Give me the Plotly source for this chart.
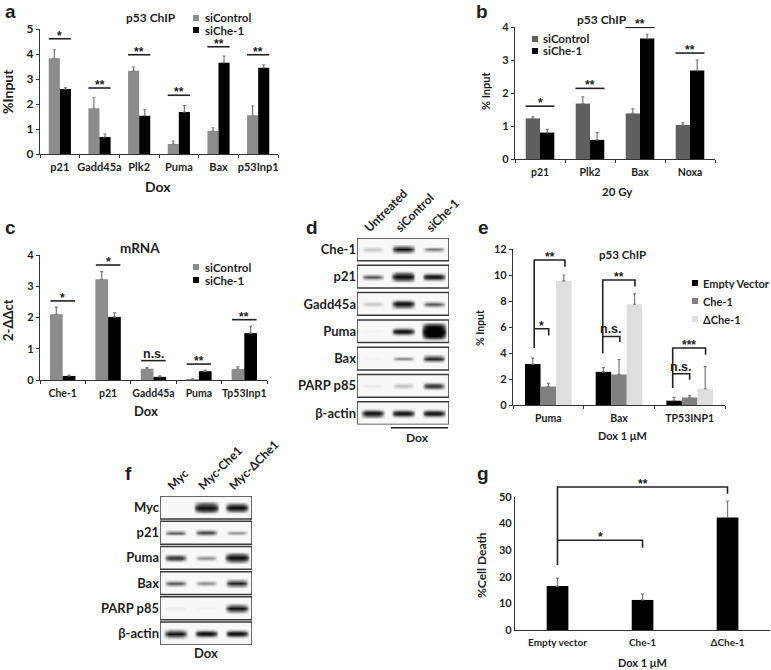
import plotly.graph_objects as go

# ---------- data ----------
A_CATS = ["p21", "Gadd45a", "Plk2", "Puma", "Bax", "p53Inp1"]
A_CTRL = [3.83, 1.83, 3.33, 0.40, 0.92, 1.55]
A_CTRL_ERR = [0.34, 0.42, 0.15, 0.12, 0.13, 0.37]
A_CHE = [2.60, 0.68, 1.53, 1.68, 3.65, 3.45]
A_CHE_ERR = [0.06, 0.12, 0.24, 0.26, 0.27, 0.12]
A_SIG_Y = [4.61, 2.64, 3.97, 2.35, 4.29, 3.97]
A_SIG_TXT = ["*", "**", "**", "**", "**", "**"]

B_CATS = ["p21", "Plk2", "Bax", "Noxa"]
B_CTRL = [1.23, 1.68, 1.38, 1.03]
B_CTRL_ERR = [0.05, 0.20, 0.14, 0.07]
B_CHE = [0.80, 0.58, 3.65, 2.68]
B_CHE_ERR = [0.10, 0.22, 0.13, 0.32]
B_SIG_Y = [1.60, 2.14, 3.99, 3.21]
B_SIG_TXT = ["*", "**", "**", "**"]

C_CATS = ["Che-1", "p21", "Gadd45a", "Puma", "Tp53Inp1"]
C_CTRL = [2.10, 3.22, 0.36, 0.03, 0.35]
C_CTRL_ERR = [0.23, 0.25, 0.04, 0.01, 0.07]
C_CHE = [0.13, 2.02, 0.10, 0.28, 1.50]
C_CHE_ERR = [0.03, 0.13, 0.03, 0.04, 0.22]
C_SIG_Y = [2.53, 3.68, 0.62, 0.51, 1.93]
C_SIG_TXT = ["*", "*", "n.s.", "**", "**"]

E_CATS = ["Puma", "Bax", "TP53INP1"]
E_EMPTY = [3.15, 2.55, 0.33]
E_EMPTY_ERR = [0.45, 0.33, 0.25]
E_CHE = [1.42, 2.35, 0.58]
E_CHE_ERR = [0.25, 1.15, 0.17]
E_DCHE = [9.55, 7.75, 1.25]
E_DCHE_ERR = [0.45, 0.80, 1.70]
E_BRACKET_X = [[-0.20, -0.20, 0.235, 0.235], [-0.20, 0.005, 0.005], [0.77, 0.77, 1.226, 1.226],
               [0.77, 1.013, 1.013], [1.76, 1.76, 2.225, 2.225], [1.76, 2.0, 2.0]]
E_BRACKET_Y = [[4.38, 11.15, 11.15, 10.64], [5.86, 5.86, 5.35], [3.99, 9.62, 9.62, 9.11],
               [5.27, 5.27, 4.84], [1.30, 4.38, 4.38, 3.86], [2.40, 2.40, 1.94]]
E_BRACKET_TXT = ["**", "*", "**", "n.s.", "***", "n.s."]

G_CATS = ["Empty vector", "Che-1", "ΔChe-1"]
G_VALS = [16.5, 11.3, 42.3]
G_ERR = [3.0, 2.2, 6.2]
G_BRACKET_X = [[0, 0, 2, 2], [0, 1, 1]]
G_BRACKET_Y = [[24.4, 53.75, 53.75, 51.25], [33.75, 33.75, 30.9]]
G_BRACKET_TXT = ["**", "*"]

D_ROWS = ["Che-1", "p21", "Gadd45a", "Puma", "Bax", "PARP p85", "β-actin"]
D_LANES = ["Untreated", "siControl", "siChe-1"]
D_SIGNAL = [[0.25, 1.00, 0.45],
            [0.60, 1.35, 1.05],
            [0.25, 1.15, 0.60],
            [0.03, 1.05, 2.60],
            [0.02, 0.40, 0.90],
            [0.07, 0.28, 0.80],
            [1.10, 1.05, 1.05]]

F_ROWS = ["Myc", "p21", "Puma", "Bax", "PARP p85", "β-actin"]
F_LANES = ["Myc", "Myc-Che1", "Myc-ΔChe1"]
F_SIGNAL = [[0.00, 1.50, 1.30],
            [0.55, 0.70, 0.35],
            [0.80, 0.50, 1.40],
            [0.60, 0.50, 0.90],
            [0.07, 0.03, 1.20],
            [1.15, 1.05, 1.05]]

# ---------- helpers ----------
W, H = 771, 670
FONT = "Lato"
TXT = "#1e1e1e"
fig = go.Figure()
shapes, annos = [], []
layout_axes = {}


def px(x):
    return x / W


def py(y):
    return 1 - y / H


def label(x, y, text, size, angle=0, family=FONT, weight=700, xanchor="center", height=None):
    annos.append(dict(x=px(x), y=py(y), xref="paper", yref="paper", text=text, showarrow=False,
                      xanchor=xanchor, yanchor="middle", textangle=angle, height=height,
                      font=dict(family=family, size=size, color=TXT, weight=weight)))


def chart_axes(n, x0, x1, ytop, ybot, cats, ymax, dtick, ticksz=12, xsz=11, ticks=True):
    k = "" if n == 1 else str(n)
    layout_axes["xaxis" + k] = dict(
        domain=[px(x0), px(x1)], range=[-0.5, len(cats) - 0.5], anchor="y" + k, automargin=False,
        tickvals=list(range(len(cats))), ticktext=cats, ticks="", showgrid=False, zeroline=False,
        showline=True, linecolor="#333", linewidth=1.2, ticklabelstandoff=3,
        minor=dict(tickvals=[i - 0.5 for i in range(len(cats) + 1)],
                   ticks="outside" if ticks else "", ticklen=3, tickcolor="#333", showgrid=False),
        tickfont=dict(family=FONT, size=xsz, color=TXT, weight=700), fixedrange=True)
    layout_axes["yaxis" + k] = dict(
        domain=[py(ybot), py(ytop)], range=[0, ymax], anchor="x" + k, dtick=dtick, tick0=0, automargin=False,
        ticks="outside" if ticks else "", ticklen=3, tickcolor="#333", showgrid=False, zeroline=False,
        showline=True, linecolor="#333", linewidth=1.2,
        tickfont=dict(family=FONT, size=ticksz, color=TXT, weight=700), fixedrange=True)
    return "x" + k, "y" + k


def bars(xa, ya, vals, errs, color, offset, width, errcolor="#7a7a7a"):
    fig.add_trace(go.Bar(
        x=list(range(len(vals))), y=vals, xaxis=xa, yaxis=ya, offset=offset, width=width,
        marker=dict(color=color, line=dict(width=0)), showlegend=False,
        error_y=dict(type="data", symmetric=False, array=errs, arrayminus=[0] * len(errs),
                     color=errcolor, thickness=1.2, width=1.5)))


def line(xa, ya, xs, ys, width=1.6):
    fig.add_trace(go.Scatter(x=xs, y=ys, xaxis=xa, yaxis=ya, mode="lines", cliponaxis=False,
                             line=dict(color="#222", width=width), showlegend=False, hoverinfo="skip"))


def sig_text(xa, ya, x, y, text):
    star = "*" in text
    annos.append(dict(x=x, y=y, xref=xa, yref=ya, text=text, showarrow=False, xanchor="center",
                      yanchor="bottom", yshift=-6 if star else -2,
                      font=dict(family="Liberation Sans", size=12 if star else 12.5, color=TXT, weight=700)))


def sig_bars(xa, ya, ys, texts, half):
    for i, (y, t) in enumerate(zip(ys, texts)):
        line(xa, ya, [i - half, i + half], [y, y])
        sig_text(xa, ya, i, y, t)


def key(x, y, color, text, size=11.5, box=6, textx=None):
    shapes.append(dict(type="rect", xref="paper", yref="paper", x0=px(x), x1=px(x + box),
                       y0=py(y - box / 2), y1=py(y + box / 2), fillcolor=color, line=dict(width=0)))
    label(textx, y, text, size, xanchor="left", height=11)


def blot(n, x0, x1, ytop, ybot, rows, lanes, signal, boxh, rowsz, lanesz):
    k = str(n)
    nrows = len(rows)
    span = (nrows - 1) + boxh
    layout_axes["xaxis" + k] = dict(
        domain=[px(x0), px(x1)], range=[0, 3], anchor="y" + k, side="top", showgrid=False, zeroline=False,
        showline=False, ticks="", tickvals=[0.28, 1.28, 2.28], ticktext=lanes, tickangle=-45, automargin=False,
        tickfont=dict(family=FONT, size=lanesz, color=TXT, weight=700), fixedrange=True)
    layout_axes["yaxis" + k] = dict(
        domain=[py(ybot), py(ytop)], range=[span, 0], anchor="x" + k, showgrid=False, zeroline=False,
        showline=False, ticks="", tickvals=[i + boxh / 2 for i in range(nrows)], ticktext=rows, automargin=False,
        tickfont=dict(family=FONT, size=rowsz, color=TXT, weight=700), fixedrange=True)
    hprof = [0, 0.55, 0.9, 1, 1, 1, 1, 0.9, 0.55, 0]
    vprof = [0, 0.4, 1, 0.4, 0]
    for r in range(nrows):
        shapes.append(dict(type="rect", xref="x" + k, yref="y" + k, x0=0, x1=3, y0=r, y1=r + boxh,
                           fillcolor="#f8f8f8", line=dict(color="#3a3a3a", width=1.5), layer="below"))
        for c in range(3):
            s = signal[r][c]
            if s <= 0:
                continue
            wd = 0.72 + 0.08 * min(s, 1.5)
            ht = (0.18 + 0.26 * s) * boxh
            z = [[min(1.0, s * a * b) for b in hprof] for a in vprof]
            fig.add_trace(go.Heatmap(
                z=z, x0=c + 0.5 - wd / 2, dx=wd / 9, y0=r + boxh / 2 - ht / 2, dy=ht / 4,
                xaxis="x" + k, yaxis="y" + k, zmin=0, zmax=1, zsmooth="best", showscale=False, hoverinfo="skip",
                colorscale=[[0, "rgba(60,60,60,0)"], [0.5, "rgba(40,40,40,0.7)"], [1, "rgba(0,0,0,1)"]]))


# ---------- panel a ----------
xa, ya = chart_axes(1, 40, 278, 29, 154, A_CATS, 5, 1, ticksz=12, xsz=11)
bars(xa, ya, A_CTRL, A_CTRL_ERR, "#8c8c8c", -0.28, 0.28)
bars(xa, ya, A_CHE, A_CHE_ERR, "#000000", 0, 0.28)
sig_bars(xa, ya, A_SIG_Y, A_SIG_TXT, 0.28)
label(151, 18, "p53 ChIP", 12)
key(193, 18, "#8c8c8c", "siControl", textx=203)
key(193, 30, "#000000", "siChe-1", textx=203)
label(8, 92, "%Input", 14, angle=-90)
label(158, 187, "Dox", 14)
label(3, 12, "a", 19, family="Liberation Sans", xanchor="left")

# ---------- panel b ----------
xa, ya = chart_axes(2, 515, 715, 27, 159, B_CATS, 4, 1, ticksz=11, xsz=10.5, ticks=True)
bars(xa, ya, B_CTRL, B_CTRL_ERR, "#5f5f5f", -0.286, 0.286)
bars(xa, ya, B_CHE, B_CHE_ERR, "#000000", 0, 0.286)
sig_bars(xa, ya, B_SIG_Y, B_SIG_TXT, 0.29)
label(602, 19, "p53 ChIP", 12)
key(532, 39, "#5f5f5f", "siControl", textx=541)
key(532, 51, "#000000", "siChe-1", textx=541)
label(485, 91, "% Input", 11, angle=-90)
label(617, 191, "20 Gy", 11.5)
label(474, 12, "b", 19, family="Liberation Sans", xanchor="left")

# ---------- panel c ----------
xa, ya = chart_axes(3, 40, 267, 255, 380, C_CATS, 4, 1, ticksz=11, xsz=10.5)
bars(xa, ya, C_CTRL, C_CTRL_ERR, "#8c8c8c", -0.28, 0.28)
bars(xa, ya, C_CHE, C_CHE_ERR, "#000000", 0, 0.28)
sig_bars(xa, ya, C_SIG_Y, C_SIG_TXT, 0.27)
label(140, 248, "mRNA", 13.5)
key(193, 267, "#8c8c8c", "siControl", textx=203)
key(193, 280, "#000000", "siChe-1", textx=203)
label(8, 320, "2-ΔΔct", 13, angle=-90)
label(146, 411, "Dox", 13)
label(3, 228, "c", 19, family="Liberation Sans", xanchor="left")

# ---------- panel e ----------
xa, ya = chart_axes(4, 513, 725, 249, 405, E_CATS, 12, 2, ticksz=11, xsz=10.5)
E_W = 0.22
bars(xa, ya, E_EMPTY, E_EMPTY_ERR, "#000000", -1.5 * E_W, E_W)
bars(xa, ya, E_CHE, E_CHE_ERR, "#808080", -0.5 * E_W, E_W)
bars(xa, ya, E_DCHE, E_DCHE_ERR, "#dedede", 0.5 * E_W, E_W)
for bx, by, t in zip(E_BRACKET_X, E_BRACKET_Y, E_BRACKET_TXT):
    line(xa, ya, bx, by)
    sig_text(xa, ya, (bx[0] + bx[-1]) / 2, max(by), t)
label(622, 254, "p53 ChIP", 11.5)
key(692, 283, "#000000", "Empty Vector", size=11, textx=701)
key(692, 301, "#808080", "Che-1", size=11, textx=701)
key(692, 319, "#dedede", "ΔChe-1", size=11, textx=701)
label(480, 328, "% Input", 10.5, angle=-90)
label(622, 436, "Dox 1 μM", 11)
label(476, 228, "e", 19, family="Liberation Sans", xanchor="left")

# ---------- panel g ----------
xa, ya = chart_axes(5, 515, 770, 497, 630, G_CATS, 50, 10, ticksz=11, xsz=10, ticks=False)
bars(xa, ya, G_VALS, G_ERR, "#000000", -0.127, 0.255)
# invisible taller copy of the y scale so the brackets can rise above 50
G_TOP = 60
layout_axes["yaxis8"] = dict(domain=[py(630), py(630 - (630 - 497) * G_TOP / 50)], range=[0, G_TOP],
                             anchor=xa, visible=False, fixedrange=True, automargin=False)
for bx, by in zip(G_BRACKET_X, G_BRACKET_Y):
    line(xa, "y8", bx, by)
sig_text(xa, "y8", 1, G_BRACKET_Y[0][1], G_BRACKET_TXT[0])
sig_text(xa, "y8", 0.5, G_BRACKET_Y[1][0], G_BRACKET_TXT[1])
label(481, 565, "%Cell Death", 12, angle=-90)
label(642, 662, "Dox 1 μM", 11)
label(475, 473, "g", 19, family="Liberation Sans", xanchor="left")

# ---------- blots ----------
blot(6, 357, 449, 238, 424.5, D_ROWS, D_LANES, D_SIGNAL, 0.83, 13, 12)
shapes.append(dict(type="line", xref="paper", yref="paper", x0=px(391), x1=px(448), y0=py(427.7), y1=py(427.7),
                   line=dict(color="#222", width=1.5)))
label(417, 437, "Dox", 12)
label(304, 227, "d", 19, family="Liberation Sans", xanchor="left")

blot(7, 160, 252, 496, 645, F_ROWS, F_LANES, F_SIGNAL, 0.91, 13, 12)
label(206, 653, "Dox", 13)
label(123, 473, "f", 19, family="Liberation Sans", xanchor="left")

fig.update_layout(
    width=W, height=H, margin=dict(l=0, r=0, t=0, b=0, autoexpand=False), paper_bgcolor="white",
    plot_bgcolor="rgba(0,0,0,0)", showlegend=False, barmode="overlay", shapes=shapes, annotations=annos,
    **layout_axes)
fig.write_html("out.html", post_script="document.body.style.margin='0';", config=dict(displayModeBar=False))
